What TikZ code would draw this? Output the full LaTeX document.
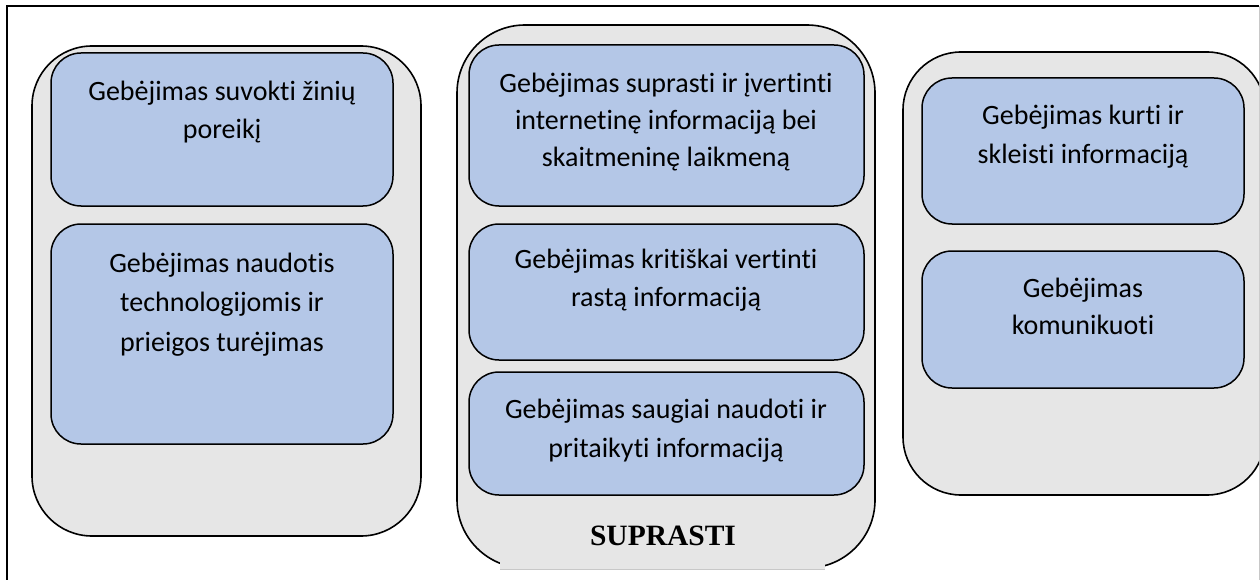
\documentclass[tikz,border=0pt]{standalone}
\usepackage{fontspec}
\setmainfont{Carlito}[Ligatures={NoCommon}]
\newfontfamily\timesfont{Liberation Serif}
\definecolor{contgrey}{RGB}{230,230,230}
\definecolor{boxblue}{RGB}{180,199,231}
\definecolor{framegrey}{RGB}{200,200,200}
\begin{document}
\begin{tikzpicture}[x=1pt,y=-1pt,
  container/.style={draw=black, line width=1.6pt, fill=contgrey, rounded corners=60pt},
  skillbox/.style={draw=black, line width=1.5pt, fill=boxblue, rounded corners=30pt},
  skilltext/.style={anchor=north, align=center, inner sep=0pt, font=\fontsize{28}{38}\selectfont}]
\useasboundingbox (0,0) rectangle (1260,580);
% outer frame
\draw[line width=2pt] (7,580) -- (7,6) -- (1259,6);
\draw[framegrey, line width=1pt] (1259,6) -- (1259,580);
% containers
\draw[container] (32,46) rectangle (421,536);
\draw[container, rounded corners=68pt] (457,25) rectangle (875,568);
\begin{scope}
  \clip (0,0) rectangle (1259,580);
  \draw[container, rounded corners=58pt] (903,52) rectangle (1265,495);
\end{scope}
% left column
\draw[skillbox] (51,53) rectangle (393,206);
\node[skilltext] (l1) at (222,73.4) {\strut Gebėjimas suvokti žinių\\poreikį};
\draw[skillbox] (51,224) rectangle (393,444);
\node[skilltext, font=\fontsize{28}{39.5}\selectfont] (l2) at (222,244.4) {\strut Gebėjimas naudotis\\technologijomis ir\\prieigos turėjimas};
% middle column
\draw[skillbox] (469,45) rectangle (864,206);
\node[skilltext, font=\fontsize{28}{37}\selectfont] (m1) at (666,66.1) {\strut Gebėjimas suprasti ir įvertinti\\internetinę informaciją bei\\skaitmeninę laikmeną};
\draw[skillbox] (469,224) rectangle (864,360);
\node[skilltext] (m2) at (666,241.4) {\strut Gebėjimas kritiškai vertinti\\rastą informaciją};
\draw[skillbox] (469,372) rectangle (864,495);
\node[skilltext, font=\fontsize{28}{39}\selectfont] (m3) at (666,390.7) {\strut Gebėjimas saugiai naudoti ir\\pritaikyti informaciją};
% suprasti label
\fill[contgrey] (500,520) rectangle (825,569);
\draw[framegrey, line width=1pt] (500,569) -- (825,569);
\node[anchor=base, inner sep=0pt, font=\timesfont\bfseries\fontsize{29.5}{34}\selectfont] (suprasti) at (663,545) {SUPRASTI};
% right column
\draw[skillbox] (922,78) rectangle (1244,224);
\node[skilltext, font=\fontsize{28}{39.5}\selectfont] (r1) at (1083,96.4) {\strut Gebėjimas kurti ir\\skleisti informaciją};
\draw[skillbox] (922,251) rectangle (1244,388);
\node[skilltext, font=\fontsize{28}{37}\selectfont] (r2) at (1083,271.1) {\strut Gebėjimas\\komunikuoti};
\end{tikzpicture}
\end{document}
